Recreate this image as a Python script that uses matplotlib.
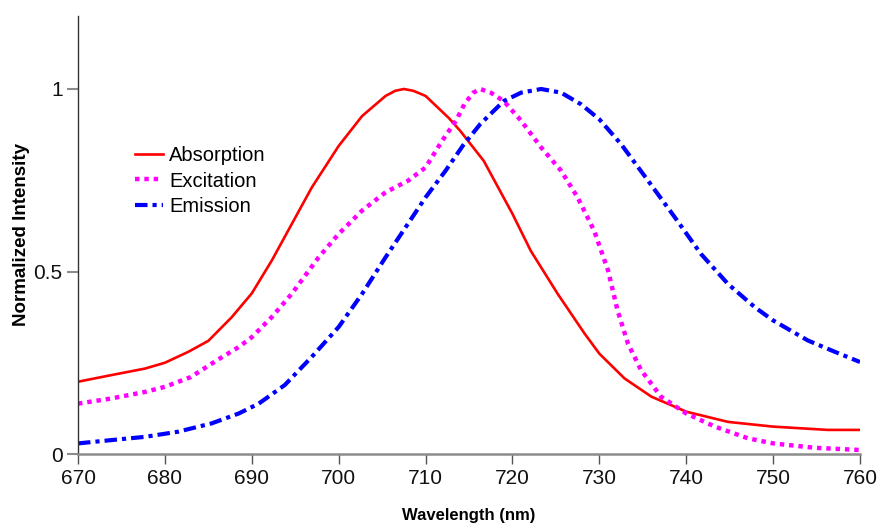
import matplotlib
matplotlib.use('Agg')
import matplotlib.pyplot as plt

plt.rcParams['font.family'] = ['Liberation Sans', 'DejaVu Sans']

# 吸収スペクトル
abs_wl = [670, 673.8, 677.7, 680, 682.7, 685, 687.7, 690, 692.3, 694.6, 696.9, 700,
          702.7, 705.4, 706.5, 707.5, 708.6, 710, 712.7, 714, 716.7, 720, 722.1, 725.2,
          728.3, 730, 732.9, 736, 740, 744.8, 750, 756.3, 760]
abs_val = [0.198, 0.216, 0.234, 0.25, 0.28, 0.31, 0.375, 0.44, 0.53, 0.63, 0.73, 0.844,
           0.926, 0.981, 0.995, 1.0, 0.995, 0.981, 0.92, 0.885, 0.803, 0.658, 0.557, 0.439,
           0.33, 0.275, 0.207, 0.157, 0.116, 0.088, 0.075, 0.066, 0.066]

# 励起スペクトル
exc_wl = [670, 673.8, 677.7, 680, 683, 686, 688.5, 690, 692.3, 694.6, 697.7, 700, 702.7,
          705.4, 708, 710, 711.9, 713.5, 714.5, 715.5, 716.3, 717.5, 719, 721, 723.3, 725.6,
          727.5, 729.4, 731, 732.1, 733.3, 734.8, 737.1, 740, 743.3, 747.1, 750, 754.8, 760]
exc_val = [0.138, 0.152, 0.17, 0.184, 0.211, 0.257, 0.293, 0.32, 0.375, 0.439, 0.539, 0.603,
           0.667, 0.717, 0.749, 0.785, 0.858, 0.913, 0.96, 0.99, 1.0, 0.99, 0.967, 0.913,
           0.84, 0.776, 0.703, 0.612, 0.503, 0.393, 0.302, 0.23, 0.157, 0.111, 0.075,
           0.043, 0.029, 0.017, 0.011]

# 発光スペクトル
emi_wl = [670, 673.8, 677.7, 681.5, 685.4, 688.5, 690.8, 693.8, 696.9, 700, 702.7, 705.4,
          707.7, 710, 712.3, 714.3, 716.3, 719, 721, 723.3, 725.6, 727.9, 730, 732.5, 735.6,
          738.7, 741.7, 744.8, 747.9, 750, 754, 757.1, 760]
emi_val = [0.029, 0.038, 0.047, 0.061, 0.084, 0.111, 0.138, 0.189, 0.266, 0.348, 0.439, 0.539,
           0.621, 0.703, 0.776, 0.845, 0.904, 0.967, 0.99, 1.0, 0.99, 0.958, 0.917, 0.849,
           0.749, 0.648, 0.548, 0.466, 0.402, 0.366, 0.311, 0.28, 0.252]

x_ticks = [670, 680, 690, 700, 710, 720, 730, 740, 750, 760]
y_ticks = [0, 0.5, 1]
y_labels = ['0', '0.5', '1']

fig = plt.figure(figsize=(8.78, 5.24), dpi=100)
ax = fig.add_axes([78 / 878, 70 / 524, 782 / 878, 438 / 524])

ax.plot(abs_wl, abs_val, color='#ff0000', lw=1.9, label='Absorption')
ax.plot(exc_wl, exc_val, color='#ff00ff', lw=3.2, linestyle=(0, (1, 1.1)),
        label='Excitation')
ax.plot(emi_wl, emi_val, color='#0000ff', lw=3.0, linestyle=(0, (3.0, 1.2, 1, 1.2)),
        label='Emission')

ax.set_xlim(670, 760)
ax.set_ylim(0, 1.2)
ax.set_xticks(x_ticks)
ax.set_yticks(y_ticks)
ax.set_yticklabels(y_labels)

ax.spines['top'].set_visible(False)
ax.spines['right'].set_visible(False)
ax.spines['left'].set_color('#333333')
ax.spines['left'].set_linewidth(1.0)
ax.spines['bottom'].set_color('#8c8c8c')
ax.spines['bottom'].set_linewidth(1.8)

ax.tick_params(axis='x', direction='out', length=7, width=1, color='#555555',
               labelsize=15, pad=4, labelcolor='#111111')
ax.tick_params(axis='y', direction='out', length=8, width=1.5, color='#8c8c8c',
               labelsize=15, pad=3, labelcolor='#111111')

ax.set_xlabel('Wavelength (nm)', fontsize=12, fontweight='bold', labelpad=14)
ax.set_ylabel('Normalized Intensity', fontsize=13.5, fontweight='bold')
ax.yaxis.set_label_coords(-0.062, 0.5)

ax.legend(loc='upper left', bbox_to_anchor=(0.073, 0.703), frameon=False,
          fontsize=14.5, handlelength=1.4, handletextpad=0.3, labelspacing=0.32,
          borderpad=0, borderaxespad=0)

fig.savefig('out.png', dpi=100)
